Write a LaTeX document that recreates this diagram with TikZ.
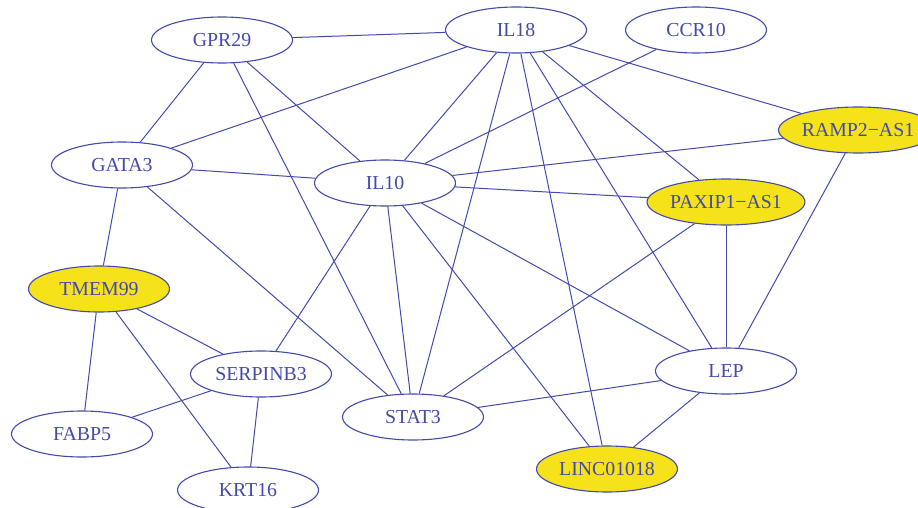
\documentclass[tikz,border=0pt]{standalone}
\usepackage{fontspec}
\setmainfont{Liberation Serif}
\usepackage{xcolor}
\usepackage{tikz}
\usetikzlibrary{shapes.geometric}
\definecolor{netblue}{RGB}{66,74,172}
\definecolor{hityellow}{RGB}{245,226,24}

\begin{document}
\begin{tikzpicture}[x=1pt,y=-1pt,
    gene/.style={ellipse,draw=netblue,line width=1.1pt,text=netblue,fill=white,
      minimum width=141pt,minimum height=46pt,inner sep=0pt,font=\fontsize{19.8}{20}\selectfont},
    lnc/.style={gene,fill=hityellow},
    link/.style={draw=netblue,line width=1pt}]
    \useasboundingbox (0,0) rectangle (918,508);
    % genes
    \node [gene] (GPR) at (222,40) {GPR29};
    \node [gene] (ILe) at (516,30) {IL18};
    \node [gene] (CCR) at (696,30) {CCR10};
    \node [lnc] (RAMP) at (858,130) {RAMP2−AS1};
    \node [gene] (GATA) at (122,165) {GATA3};
    \node [gene] (ILt) at (385,183) {IL10};
    \node [lnc] (PAX) at (726,202) {PAXIP1−AS1};
    \node [lnc] (TMEM) at (99,289) {TMEM99};
    \node [gene] (SERP) at (261,374) {SERPINB3};
    \node [gene] (LEP) at (726,371) {LEP};
    \node [gene] (STAT) at (413,417) {STAT3};
    \node [gene] (FABP) at (82,434) {FABP5};
    \node [lnc] (LINC) at (607,469) {LINC01018};
    \node [gene] (KRT) at (248,490) {KRT16};
    % interactions
    \draw[link] (GPR) -- (ILe);
    \draw[link] (GPR) -- (GATA);
    \draw[link] (GPR) -- (ILt);
    \draw[link] (GPR) -- (STAT);
    \draw[link] (ILe) -- (GATA);
    \draw[link] (ILe) -- (ILt);
    \draw[link] (ILe) -- (STAT);
    \draw[link] (ILe) -- (LINC);
    \draw[link] (ILe) -- (LEP);
    \draw[link] (ILe) -- (PAX);
    \draw[link] (ILe) -- (RAMP);
    \draw[link] (CCR) -- (ILt);
    \draw[link] (GATA) -- (ILt);
    \draw[link] (GATA) -- (TMEM);
    \draw[link] (GATA) -- (STAT);
    \draw[link] (ILt) -- (RAMP);
    \draw[link] (ILt) -- (PAX);
    \draw[link] (ILt) -- (SERP);
    \draw[link] (ILt) -- (STAT);
    \draw[link] (ILt) -- (LINC);
    \draw[link] (ILt) -- (LEP);
    \draw[link] (PAX) -- (STAT);
    \draw[link] (PAX) -- (LEP);
    \draw[link] (RAMP) -- (LEP);
    \draw[link] (TMEM) -- (SERP);
    \draw[link] (TMEM) -- (FABP);
    \draw[link] (TMEM) -- (KRT);
    \draw[link] (SERP) -- (FABP);
    \draw[link] (SERP) -- (KRT);
    \draw[link] (STAT) -- (LEP);
    \draw[link] (LEP) -- (LINC);
\end{tikzpicture}
\end{document}
